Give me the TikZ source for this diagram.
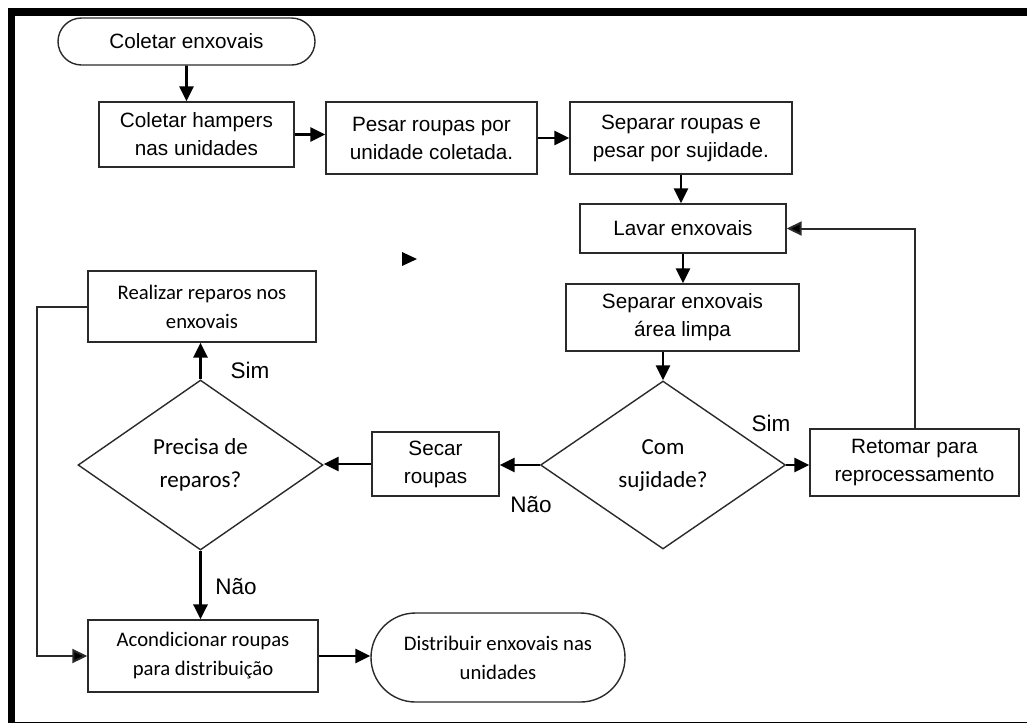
\documentclass[tikz,border=0pt]{standalone}
\usepackage{fontspec}
\setmainfont{Liberation Sans}
\newfontfamily\calfont{Carlito}
\usetikzlibrary{arrows.meta,shapes.geometric,shapes.misc}

\definecolor{edgegray}{HTML}{2A2A2A}

\tikzset{
  boxline/.style={draw=edgegray, line width=1.4pt, inner sep=0pt, align=center, text=black, fill=white},
  proc/.style={boxline, rectangle},
  term/.style={boxline, rounded rectangle},
  decision/.style={boxline, diamond},
  arialtxt/.style={font=\fontsize{20.7pt}{28pt}\selectfont},
  calibritxt/.style={font=\calfont\fontsize{20.7pt}{29pt}\selectfont},
  decisiontxt/.style={font=\calfont\fontsize{23pt}{33pt}\selectfont},
  answer/.style={font=\fontsize{22.5pt}{26pt}\selectfont, inner sep=0pt},
  flow/.style={line width=2.8pt, -{Triangle[length=15pt,width=14pt]}},
  backflow/.style={draw=edgegray, line width=2pt, -{Triangle[length=15pt,width=14pt,fill=black]}},
}

\begin{document}
\begin{tikzpicture}[x=1pt, y=-1pt]
  \useasboundingbox (0,0) rectangle (1027,724);

  % page frame
  \fill[black] (8,8) rectangle (1027,16);
  \fill[black] (8,8) rectangle (15,722);
  \draw[black, line width=1.5pt] (8,722.5) -- (1027,722.5);

  % process steps
  \node[term, arialtxt, minimum width=257pt, minimum height=47pt] (start) at (186.5,41.5) {Coletar enxovais};
  \node[proc, arialtxt, minimum width=195pt, minimum height=65pt] (hamp) at (196.5,134.5) {Coletar hampers\\nas unidades};
  \node[proc, arialtxt, minimum width=211pt, minimum height=72pt] (pesar) at (431.5,138) {Pesar roupas por\\unidade coletada.};
  \node[proc, arialtxt, minimum width=222pt, minimum height=72pt] (sep) at (681,138) {Separar roupas e\\pesar por sujidade.};
  \node[proc, arialtxt, minimum width=206pt, minimum height=49pt] (lavar) at (683,228.5) {Lavar enxovais};
  \node[proc, arialtxt, minimum width=233pt, minimum height=67pt] (sepl) at (682.5,317.5) {Separar enxovais\\área limpa};
  \node[decision, decisiontxt, minimum width=245pt, minimum height=168pt] (com) at (663,465) {Com\\sujidade?};
  \node[proc, arialtxt, minimum width=209pt, minimum height=67pt] (ret) at (914.5,462.5) {Retomar para\\reprocessamento};
  \node[proc, arialtxt, minimum width=127pt, minimum height=64pt] (secar) at (435.5,464) {Secar\\roupas};
  \node[decision, decisiontxt, minimum width=245pt, minimum height=170pt] (prec) at (200.5,465) {Precisa de\\reparos?};
  \node[proc, calibritxt, minimum width=228pt, minimum height=71pt] (real) at (202,306.5) {Realizar reparos nos\\enxovais};
  \node[proc, calibritxt, minimum width=230pt, minimum height=72pt] (acon) at (203,656) {Acondicionar roupas\\para distribuição};
  \node[term, calibritxt, minimum width=254pt, minimum height=89pt] (dist) at (498,657.5) {Distribuir enxovais nas\\unidades};

  % branch answers
  \node[answer] (simPrec) at (250,370) {Sim};
  \node[answer] (naoPrec) at (236,587) {Não};
  \node[answer] (naoCom) at (531,505) {Não};
  \node[answer] (simCom) at (771,423) {Sim};

  % connectors
  \draw[flow] (start) -- (start |- hamp.north);
  \draw[flow] (hamp.east) -- (hamp.east -| pesar.west);
  \draw[flow] (pesar.east) -- (pesar.east -| sep.west);
  \draw[flow] (sep.south) -- (sep.south |- lavar.north);
  \draw[flow] (lavar.south) -- (lavar.south |- sepl.north);
  \draw[flow] (sepl.south -| com.north) -- (com.north);
  \draw[flow] (com.west) -- (com.west -| secar.east);
  \draw[flow] (com.east) -- (com.east -| ret.west);
  \draw[flow] (secar.west) -- (secar.west -| prec.east);
  \draw[flow, line width=3.2pt] (prec.north) -- (prec.north |- real.south);
  \draw[flow, line width=3.2pt] (prec.south) -- (prec.south |- acon.north);
  \draw[flow] (acon.east) -- (acon.east -| dist.west);
  \draw[backflow] (ret.north) |- (lavar.east);
  \draw[backflow] (real.west) -- ++(-50,0) |- (acon.west);

  % loose arrowhead
  \fill[black] (402,252) -- (402,266) -- (417,259) -- cycle;
\end{tikzpicture}
\end{document}
